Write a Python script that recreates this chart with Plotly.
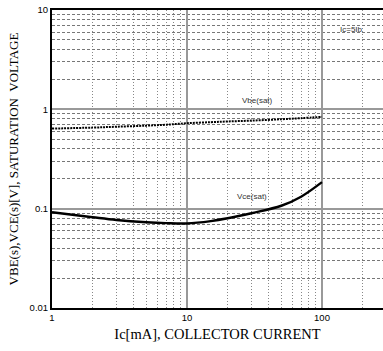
import plotly.graph_objects as go

ic = [1, 2, 3, 5, 7, 10, 15, 20, 30, 50, 70, 100]
vbe_sat = [0.640, 0.655, 0.668, 0.685, 0.700, 0.725, 0.742, 0.755, 0.770, 0.795, 0.815, 0.840]
vce_sat = [0.092, 0.082, 0.077, 0.073, 0.0715, 0.071, 0.075, 0.080, 0.090, 0.107, 0.132, 0.185]

x_ticks = [1, 10, 100]
x_ticktext = ["1", "10", "100"]
y_ticks = [0.01, 0.1, 1, 10]
y_ticktext = ["0.01", "0.1", "1", "10"]

fig = go.Figure()
fig.add_trace(go.Scatter(x=ic, y=vbe_sat, mode="lines", line=dict(color="black", width=2, dash="2px,1px", shape="spline"), showlegend=False))
fig.add_trace(go.Scatter(x=ic, y=vce_sat, mode="lines", line=dict(color="black", width=2.4, shape="spline"), showlegend=False))

fig.add_annotation(x=1.52, y=0.09, xref="x", yref="y", text="Vbe(sat)", showarrow=False, font=dict(size=8, color="#333", family="Liberation Sans"))
fig.add_annotation(x=1.48, y=-0.876, xref="x", yref="y", text="Vce(sat)", showarrow=False, font=dict(size=8, color="#333", family="Liberation Sans"))
fig.add_annotation(x=2.22, y=0.8, xref="x", yref="y", text="Ic=5Ib", showarrow=False, font=dict(size=8, color="#333", family="Liberation Sans"))

fig.update_xaxes(type="log", range=[0, 2.452], tickvals=x_ticks, ticktext=x_ticktext,
                 showline=True, linecolor="black", linewidth=2, mirror=True,
                 showgrid=True, gridcolor="#999", gridwidth=1.5, ticks="", zeroline=False,
                 minor=dict(dtick="D1", showgrid=True, gridcolor="#888", griddash="1px,2px", gridwidth=1),
                 tickfont=dict(size=9.5, family="Liberation Sans", color="black"),
                 title=dict(text="Ic[mA], COLLECTOR CURRENT", font=dict(size=14.5, family="Liberation Serif", color="black"), standoff=6))
fig.update_yaxes(type="log", range=[-2, 1], tickvals=y_ticks, ticktext=y_ticktext,
                 showline=True, linecolor="black", linewidth=2, mirror=False,
                 showgrid=True, gridcolor="#999", gridwidth=1.5, ticks="", zeroline=False,
                 minor=dict(dtick="D1", showgrid=True, gridcolor="#777", griddash="3px,2px", gridwidth=1),
                 tickfont=dict(size=9.5, family="Liberation Sans", color="black"),
                 title=dict(text="VBE(s),VCE(s)[V], SATURATION  VOLTAGE", font=dict(size=13, family="Liberation Serif", color="black"), standoff=8))

fig.update_layout(width=383, height=351, margin=dict(l=52, r=0, t=10, b=43),
                  plot_bgcolor="white", paper_bgcolor="white")
fig.write_html("out.html")
